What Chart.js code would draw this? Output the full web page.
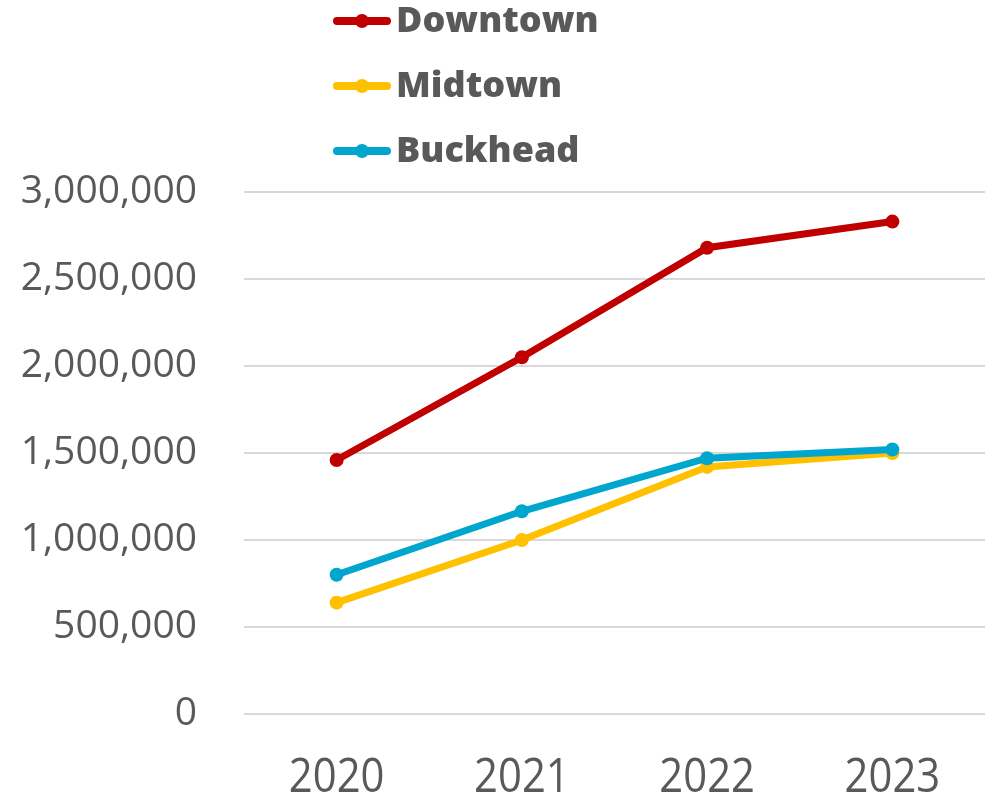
<!DOCTYPE html>
<html><head><meta charset="utf-8">
<script src="https://cdn.jsdelivr.net/npm/chart.js@4/dist/chart.umd.min.js"></script>
<style>html,body{margin:0;padding:0;background:#fff}#wrap{width:997px;height:797px}</style>
</head><body><div id="wrap"><canvas id="c" width="997" height="797"></canvas></div>
<script>
const years = ["2020", "2021", "2022", "2023"];
const downtown = [1460000, 2050000, 2680000, 2830000];
const midtown = [640000, 1000000, 1420000, 1500000];
const buckhead = [800000, 1165000, 1470000, 1520000];
const yTicks = [0, 500000, 1000000, 1500000, 2000000, 2500000, 3000000];
const seriesNames = ["Downtown", "Midtown", "Buckhead"];
const seriesColors = ["#C00000", "#FFC000", "#00A6CE"];

const legendPlugin = {
  id: 'customLegend',
  afterDraw(chart) {
    const ctx = chart.ctx;
    ctx.save();
    const ys = [21, 86, 151];
    chart.data.datasets.forEach((ds, i) => {
      const y = ys[i];
      ctx.strokeStyle = ds.borderColor;
      ctx.lineWidth = 8;
      ctx.lineCap = 'round';
      ctx.beginPath(); ctx.moveTo(337, y); ctx.lineTo(387, y); ctx.stroke();
      ctx.fillStyle = ds.borderColor;
      ctx.beginPath(); ctx.arc(362, y, 7, 0, Math.PI * 2); ctx.fill();
      ctx.fillStyle = '#595959';
      ctx.font = '800 36px "Open Sans"';
      ctx.textBaseline = 'middle';
      ctx.textAlign = 'left';
      ctx.fillText(ds.label, 396, y + 1);
    });
    ctx.restore();
  }
};

// x-axis year labels drawn slightly condensed, positioned by the category scale
const xLabelPlugin = {
  id: 'xLabels',
  afterDraw(chart) {
    const ctx = chart.ctx;
    const xs = chart.scales.x;
    ctx.save();
    ctx.fillStyle = '#595959';
    ctx.font = '48px "Open Sans"';
    ctx.textAlign = 'center';
    ctx.textBaseline = 'middle';
    xs.ticks.forEach((t, i) => {
      const px = xs.getPixelForTick(i);
      ctx.save();
      ctx.translate(px, 778);
      ctx.scale(0.87, 1);
      ctx.fillText(chart.data.labels[i], 0, 0);
      ctx.restore();
    });
    ctx.restore();
  }
};

new Chart(document.getElementById('c'), {
  type: 'line',
  data: {
    labels: years,
    datasets: [downtown, midtown, buckhead].map((d, i) => ({
      label: seriesNames[i],
      data: d,
      borderColor: seriesColors[i],
      backgroundColor: seriesColors[i],
      borderWidth: 7,
      pointRadius: 7,
      pointHoverRadius: 7,
      pointBorderWidth: 0,
      tension: 0,
      order: i === 2 ? 0 : (i === 1 ? 1 : 2)
    }))
  },
  options: {
    responsive: false,
    animation: false,
    devicePixelRatio: 1,
    layout: { padding: { top: 192, right: 12, left: 0, bottom: 0 } },
    plugins: { legend: { display: false }, tooltip: { enabled: false } },
    scales: {
      x: {
        offset: true,
        grid: { display: false, drawTicks: false },
        border: { display: false },
        ticks: { display: false },
        afterFit(s) { s.height = 83; }
      },
      y: {
        min: 0, max: 3000000,
        afterBuildTicks(s) { s.ticks = yTicks.map(v => ({ value: v })); },
        grid: { color: '#D9D9D9', lineWidth: 2, drawTicks: false },
        border: { display: false },
        ticks: {
          color: '#595959', padding: 47,
          font: { family: '"Open Sans", sans-serif', size: 39 },
          callback: v => v.toLocaleString('en-US')
        },
        afterFit(s) { s.width = 244; }
      }
    }
  },
  plugins: [legendPlugin, xLabelPlugin]
});
</script>
</body></html>
